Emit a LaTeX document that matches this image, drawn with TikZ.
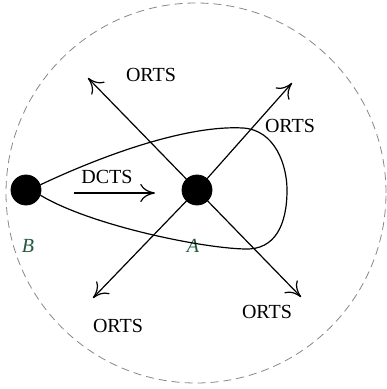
\documentclass[tikz,border=0pt]{standalone}
\usepackage{fontspec}
\setmainfont{Liberation Serif}
\usetikzlibrary{arrows.meta,positioning}
\definecolor{labelgreen}{RGB}{35,90,60}
\definecolor{rimgray}{RGB}{135,135,135}

\begin{document}
\begin{tikzpicture}[
  x=0.5pt,y=-0.5pt,
  every node/.style={font=\normalsize,align=center},
  dot/.style={circle,fill=black,draw=black,minimum size=15pt,inner sep=0pt},
  stationlabel/.style={text=labelgreen,font=\normalsize\itshape},
  arrow/.style={-{To[length=2.6mm,width=3.2mm]},semithick},
  rim/.style={draw=rimgray,dash pattern=on 4pt off 2.5pt,thin}
]
\useasboundingbox (0,0) rectangle (386,389);
\draw[rim] (196,193) circle[radius=95pt];
% the two stations
\node[dot] (B) at (26,190) {};
\node[dot] (A) at (197,190) {};
\node[stationlabel] (Bname) at (28,246) {B};
\node[stationlabel] (Aname) at (193,246) {A};
% coverage loop of B
\draw[semithick] (B.20) .. controls (110,152) and (190,125) .. (243,128)
  .. controls (275,130) and (287,165) .. (287,190)
  .. controls (287,225) and (275,250) .. (245,249)
  .. controls (200,248) and (90,225) .. (B.-20);
% directional CTS
\node (dcts) at (107,177) {DCTS};
\coordinate (d0) at (74,193);
\coordinate (d1) at (155,193);
\draw[arrow] (d0) -- (d1);
% omni-directional RTS
\coordinate (ul) at (88,78);
\coordinate (ur) at (292,83);
\coordinate (ll) at (93,298);
\coordinate (lr) at (301,297);
\draw[arrow] (A.center) -- (ul);
\draw[arrow] (A.center) -- (ur);
\draw[arrow] (A.center) -- (ll);
\draw[arrow] (A.center) -- (lr);
\node (o1) at (151,75) {ORTS};
\node (o2) at (290,126) {ORTS};
\node (o3) at (118,326) {ORTS};
\node (o4) at (267,312) {ORTS};
\end{tikzpicture}
\end{document}
